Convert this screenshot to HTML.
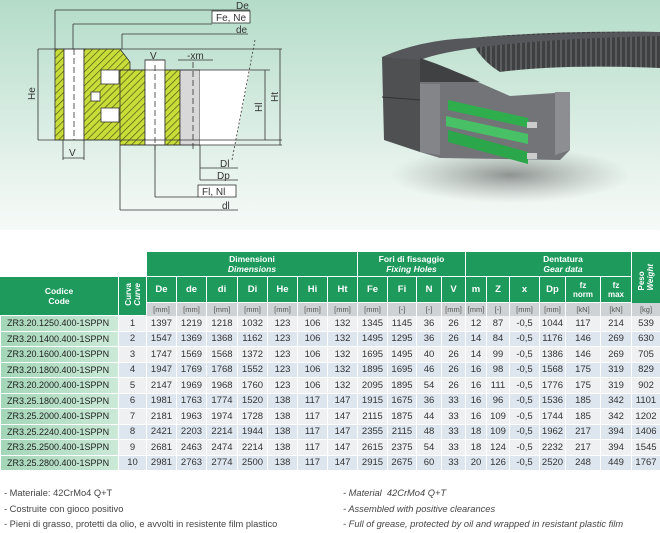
<!DOCTYPE html>
<html><head><meta charset="utf-8">
<style>
*{margin:0;padding:0;box-sizing:border-box}
body{width:660px;height:530px;overflow:hidden;background:#fff;font-family:"Liberation Sans",sans-serif;position:relative}
#top{position:absolute;left:0;top:0;width:660px;height:230px;background:linear-gradient(180deg,#b4dcc8 0%,#d3eadf 45%,#eef6f2 85%,#f6faf8 100%)}
table{position:absolute;left:0;top:252px;border-collapse:separate;border-spacing:0;table-layout:fixed;font-size:9.5px;color:#333}
td{text-align:center;padding:0;overflow:hidden;white-space:nowrap}
.g{background:#1d9a5c;color:#fff;font-weight:bold;border-left:1px solid #fff;border-bottom:1px solid #fff}
.g i{font-weight:bold}
.u{background:#cfd2d4;color:#555;font-size:7.5px;border-left:1px solid #fff;height:13px}
.code{background:linear-gradient(90deg,#a8d9bb,#c7e8d4);text-align:left;padding-left:6px;color:#222;font-size:9px}
tr.r td{height:15.5px;border-left:1px solid #fff;border-bottom:1px solid #fff}
tr.o td{background:#eef0f1}
tr.e td{background:#dde6ef}
tr.o td.code,tr.e td.code{background:linear-gradient(90deg,#a4d6b8,#cbe9d7)}
.vt{writing-mode:vertical-rl;transform:rotate(180deg);font-size:8px;line-height:9px}
.notes{position:absolute;font-size:9.3px;color:#444;line-height:15.5px}
</style></head><body>
<div id="top">
<svg width="660" height="230" xmlns="http://www.w3.org/2000/svg" font-family="Liberation Sans,sans-serif">
<defs>
<pattern id="h" width="5" height="5" patternUnits="userSpaceOnUse" patternTransform="rotate(45)">
<rect width="5" height="5" fill="#c8dc3a"/><line x1="0" y1="0" x2="0" y2="5" stroke="#4a5a10" stroke-width="1.4"/></pattern>
<pattern id="t" width="5" height="40" patternUnits="userSpaceOnUse">
<rect width="5" height="40" fill="#3e4042"/><rect width="2" height="40" fill="#5a5c5e"/></pattern>
<radialGradient id="sh" cx="0.5" cy="0.5" r="0.5"><stop offset="0" stop-color="#444" stop-opacity=".55"/><stop offset="1" stop-color="#777" stop-opacity="0"/></radialGradient>
</defs>
<g stroke="#333" stroke-width="0.8" fill="none">
<rect x="55" y="49" width="9" height="91" fill="url(#h)"/>
<rect x="64" y="49" width="20" height="91" fill="#fff"/>
<path d="M84 49 H120 L130 62 V140 H84 Z" fill="url(#h)"/>
<path d="M120 70 H145 V145 H120 Z" fill="url(#h)"/>
<rect x="145" y="60" width="20" height="85" fill="#fff"/>
<rect x="165" y="70" width="15" height="75" fill="url(#h)"/>
<rect x="180" y="70" width="20" height="75" fill="#d8d8d8"/>
<path d="M200 70 H250 L235 145 H200Z" fill="#fff" stroke="none"/>
<rect x="101" y="70" width="18" height="14" fill="#fff"/>
<rect x="101" y="108" width="18" height="14" fill="#fff"/>
<rect x="91" y="92" width="9" height="9" fill="#fff"/>
<line x1="38" y1="49" x2="282" y2="49"/><line x1="38" y1="140" x2="282" y2="140"/>
<line x1="38" y1="49" x2="38" y2="140"/>
<line x1="120" y1="70" x2="270" y2="70"/><line x1="120" y1="145" x2="282" y2="145"/>
<line x1="265" y1="70" x2="265" y2="140"/><line x1="280" y1="49" x2="280" y2="145"/>
<line x1="55" y1="10" x2="250" y2="10"/><line x1="55" y1="10" x2="55" y2="49"/>
<line x1="73" y1="24" x2="212" y2="24"/><line x1="73" y1="24" x2="73" y2="49"/>
<line x1="122" y1="34" x2="248" y2="34"/><line x1="122" y1="34" x2="122" y2="49"/>
<rect x="212" y="11" width="38" height="12" fill="#fff"/>
<line x1="63" y1="140" x2="63" y2="160"/><line x1="84" y1="140" x2="84" y2="160"/><line x1="63" y1="158" x2="84" y2="158"/>
<line x1="145" y1="60" x2="165" y2="60"/>
<line x1="120" y1="145" x2="120" y2="210"/><line x1="120" y1="210" x2="238" y2="210"/>
<line x1="155" y1="145" x2="155" y2="197"/><line x1="155" y1="197" x2="198" y2="197"/>
<rect x="198" y="185" width="38" height="12" fill="#fff"/>
<line x1="200" y1="145" x2="200" y2="180"/><line x1="200" y1="168" x2="238" y2="168"/><line x1="200" y1="180" x2="238" y2="180"/>
<line x1="178" y1="60" x2="213" y2="60"/>
<line x1="255" y1="40" x2="232" y2="160" stroke-dasharray="2,2"/>
<line x1="74" y1="49" x2="74" y2="140" stroke-dasharray="6,3"/>
<line x1="155" y1="65" x2="155" y2="150" stroke-dasharray="6,3"/>
<line x1="193" y1="62" x2="193" y2="150" stroke-dasharray="6,3"/>
</g>
<g font-size="10" fill="#333">
<text x="236" y="9">De</text><text x="216" y="21">Fe, Ne</text><text x="236" y="33">de</text>
<text x="150" y="59">V</text><text x="187" y="59">-xm</text><text x="69" y="156">V</text>
<text x="220" y="167">Dl</text><text x="217" y="179">Dp</text><text x="202" y="195">Fl, Nl</text><text x="222" y="209">dl</text>
<text transform="translate(35,100) rotate(-90)">He</text><text transform="translate(262,112) rotate(-90)">Hl</text><text transform="translate(278,102) rotate(-90)">Ht</text>
</g>
<ellipse cx="510" cy="175" rx="120" ry="28" fill="url(#sh)"/>
<path d="M470 38 Q560 30 660 32 V68 Q560 64 500 72 Q480 60 470 38Z" fill="url(#t)"/>
<path d="M382 57 Q420 40 470 38 Q560 33 660 32 V36 Q560 38 490 46 Q440 52 420 60 Q460 72 480 82 L420 82 Z" fill="#55575a"/>
<path d="M420 58 Q450 68 478 82 L420 84Z" fill="#3f4143"/>
<path d="M382 57 L420 60 L420 152 L384 140 Z" fill="#4e5052"/>
<path d="M382 97 L420 100" stroke="#333" stroke-width="1"/>
<path d="M420 82 L478 82 L510 96 L570 92 L570 150 L560 160 L440 158 L420 152Z" fill="#727477"/>
<path d="M420 84 L440 84 L440 155 L420 152Z" fill="#838588"/>
<path d="M555 92 L570 92 L570 150 L555 155Z" fill="#8c8e91"/>
<path d="M448 100 L528 118 L530 128 L448 110Z" fill="#2fae4e"/>
<path d="M446 116 L528 134 L528 144 L446 126Z" fill="#48c065"/>
<path d="M448 130 L528 152 L528 164 L448 142Z" fill="#2ba64a"/>
<rect x="527" y="122" width="10" height="6" fill="#ccc"/><rect x="527" y="153" width="10" height="6" fill="#ccc"/>
</svg>
</div>
<table>
<colgroup>
<col style="width:118px"><col style="width:28px">
<col style="width:30px"><col style="width:30px"><col style="width:31px"><col style="width:30px"><col style="width:30px"><col style="width:30px"><col style="width:30px">
<col style="width:30px"><col style="width:29px"><col style="width:25px"><col style="width:24px">
<col style="width:21px"><col style="width:23px"><col style="width:30px"><col style="width:26px"><col style="width:35px"><col style="width:31px"><col style="width:29px">
</colgroup>
<tr style="height:25px"><td colspan="2" style="background:#fff"></td>
<td colspan="7" class="g" style="font-size:8.5px;line-height:10px">Dimensioni<br><i>Dimensions</i></td>
<td colspan="4" class="g" style="font-size:8.5px;line-height:10px">Fori di fissaggio<br><i>Fixing Holes</i></td>
<td colspan="7" class="g" style="font-size:8.5px;line-height:10px">Dentatura<br><i>Gear data</i></td>
</tr>
<tr style="height:26px">
<td rowspan="2" class="g" style="font-size:8.5px;line-height:10px;border-left:none">Codice<br><i style="font-weight:bold;font-style:normal">Code</i></td>
<td rowspan="2" class="g"><span class="vt">Curva<br><i>Curve</i></span></td>
<td class="g">De</td><td class="g">de</td><td class="g">di</td><td class="g">Di</td><td class="g">He</td><td class="g">Hi</td><td class="g">Ht</td>
<td class="g">Fe</td><td class="g">Fi</td><td class="g">N</td><td class="g">V</td>
<td class="g">m</td><td class="g">Z</td><td class="g">x</td><td class="g">Dp</td><td class="g" style="font-size:8px;line-height:9px">fz<br>norm</td><td class="g" style="font-size:8px;line-height:9px">fz<br>max</td>
</tr>
<tr><td class="u">[mm]</td><td class="u">[mm]</td><td class="u">[mm]</td><td class="u">[mm]</td><td class="u">[mm]</td><td class="u">[mm]</td><td class="u">[mm]</td><td class="u">[mm]</td><td class="u">[-]</td><td class="u">[-]</td><td class="u">[mm]</td><td class="u">[mm]</td><td class="u">[-]</td><td class="u">[mm]</td><td class="u">[mm]</td><td class="u">[kN]</td><td class="u">[kN]</td></tr>
<tr class="r o"><td class="code">ZR3.20.1250.400-1SPPN</td><td>1</td><td>1397</td><td>1219</td><td>1218</td><td>1032</td><td>123</td><td>106</td><td>132</td><td>1345</td><td>1145</td><td>36</td><td>26</td><td>12</td><td>87</td><td>-0,5</td><td>1044</td><td>117</td><td>214</td><td>539</td></tr>
<tr class="r e"><td class="code">ZR3.20.1400.400-1SPPN</td><td>2</td><td>1547</td><td>1369</td><td>1368</td><td>1162</td><td>123</td><td>106</td><td>132</td><td>1495</td><td>1295</td><td>36</td><td>26</td><td>14</td><td>84</td><td>-0,5</td><td>1176</td><td>146</td><td>269</td><td>630</td></tr>
<tr class="r o"><td class="code">ZR3.20.1600.400-1SPPN</td><td>3</td><td>1747</td><td>1569</td><td>1568</td><td>1372</td><td>123</td><td>106</td><td>132</td><td>1695</td><td>1495</td><td>40</td><td>26</td><td>14</td><td>99</td><td>-0,5</td><td>1386</td><td>146</td><td>269</td><td>705</td></tr>
<tr class="r e"><td class="code">ZR3.20.1800.400-1SPPN</td><td>4</td><td>1947</td><td>1769</td><td>1768</td><td>1552</td><td>123</td><td>106</td><td>132</td><td>1895</td><td>1695</td><td>46</td><td>26</td><td>16</td><td>98</td><td>-0,5</td><td>1568</td><td>175</td><td>319</td><td>829</td></tr>
<tr class="r o"><td class="code">ZR3.20.2000.400-1SPPN</td><td>5</td><td>2147</td><td>1969</td><td>1968</td><td>1760</td><td>123</td><td>106</td><td>132</td><td>2095</td><td>1895</td><td>54</td><td>26</td><td>16</td><td>111</td><td>-0,5</td><td>1776</td><td>175</td><td>319</td><td>902</td></tr>
<tr class="r e"><td class="code">ZR3.25.1800.400-1SPPN</td><td>6</td><td>1981</td><td>1763</td><td>1774</td><td>1520</td><td>138</td><td>117</td><td>147</td><td>1915</td><td>1675</td><td>36</td><td>33</td><td>16</td><td>96</td><td>-0,5</td><td>1536</td><td>185</td><td>342</td><td>1101</td></tr>
<tr class="r o"><td class="code">ZR3.25.2000.400-1SPPN</td><td>7</td><td>2181</td><td>1963</td><td>1974</td><td>1728</td><td>138</td><td>117</td><td>147</td><td>2115</td><td>1875</td><td>44</td><td>33</td><td>16</td><td>109</td><td>-0,5</td><td>1744</td><td>185</td><td>342</td><td>1202</td></tr>
<tr class="r e"><td class="code">ZR3.25.2240.400-1SPPN</td><td>8</td><td>2421</td><td>2203</td><td>2214</td><td>1944</td><td>138</td><td>117</td><td>147</td><td>2355</td><td>2115</td><td>48</td><td>33</td><td>18</td><td>109</td><td>-0,5</td><td>1962</td><td>217</td><td>394</td><td>1406</td></tr>
<tr class="r o"><td class="code">ZR3.25.2500.400-1SPPN</td><td>9</td><td>2681</td><td>2463</td><td>2474</td><td>2214</td><td>138</td><td>117</td><td>147</td><td>2615</td><td>2375</td><td>54</td><td>33</td><td>18</td><td>124</td><td>-0,5</td><td>2232</td><td>217</td><td>394</td><td>1545</td></tr>
<tr class="r e"><td class="code">ZR3.25.2800.400-1SPPN</td><td>10</td><td>2981</td><td>2763</td><td>2774</td><td>2500</td><td>138</td><td>117</td><td>147</td><td>2915</td><td>2675</td><td>60</td><td>33</td><td>20</td><td>126</td><td>-0,5</td><td>2520</td><td>248</td><td>449</td><td>1767</td></tr>
</table>
<div style="position:absolute;left:631px;top:252px;width:29px;height:51px;background:#1d9a5c;border-left:1px solid #fff;display:flex;align-items:center;justify-content:center"><span class="vt" style="color:#fff;font-weight:bold;font-size:8px">Peso<br><i>Weight</i></span></div>
<div style="position:absolute;left:631px;top:303px;width:29px;height:13px;background:#cfd2d4;border-left:1px solid #fff;font-size:7.5px;color:#555;text-align:center;line-height:13px">[kg]</div>
<div class="notes" style="left:4px;top:486px">- Materiale: 42CrMo4 Q+T<br>- Costruite con gioco positivo<br>- Pieni di grasso, protetti da olio, e avvolti in resistente film plastico</div>
<div class="notes" style="left:343px;top:486px;font-style:italic">- Material&nbsp; 42CrMo4 Q+T<br>- Assembled with positive clearances<br>- Full of grease, protected by oil and wrapped in resistant plastic film</div>
</body></html>
